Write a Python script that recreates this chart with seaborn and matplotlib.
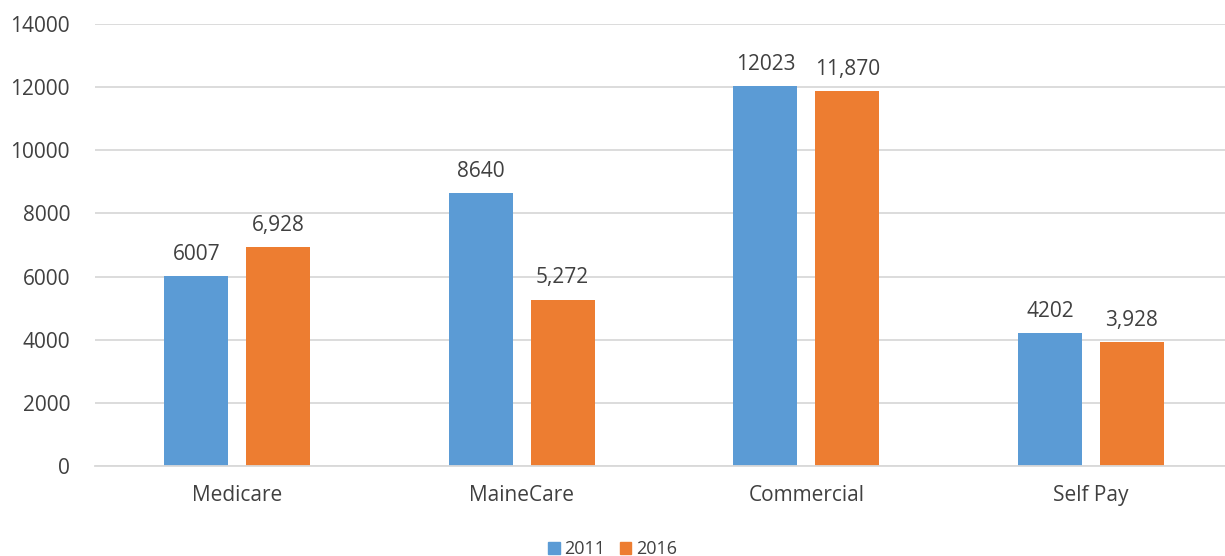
import matplotlib
matplotlib.use('Agg')
import matplotlib.pyplot as plt
import seaborn as sns
import pandas as pd

# chart data
categories = ['Medicare', 'MaineCare', 'Commercial', 'Self Pay']
years = ['2011', '2016']
values_2011 = [6007, 8640, 12023, 4202]
values_2016 = [6928, 5272, 11870, 3928]
y_ticks = [0, 2000, 4000, 6000, 8000, 10000, 12000, 14000]

sns.set_style('white')
plt.rcParams['font.family'] = ['Open Sans', 'DejaVu Sans']

df = pd.DataFrame({
    'category': categories * 2,
    'year': [years[0]] * len(categories) + [years[1]] * len(categories),
    'value': values_2011 + values_2016,
})

palette = {'2011': '#5B9BD5', '2016': '#ED7D31'}
text_color = '#404040'

fig = plt.figure(figsize=(12.25, 5.56), dpi=100)
ax = fig.add_axes([95 / 1225, 90 / 556, 1138 / 1225, 442 / 556])

sns.barplot(data=df, x='category', y='value', hue='year', palette=palette,
            width=0.5754, gap=0.219, saturation=1, linewidth=0, ax=ax, legend=False)

ax.set_ylim(0, 14000)
ax.set_yticks(y_ticks)
ax.yaxis.grid(True, color='#D9D9D9', linewidth=1.3)
ax.set_axisbelow(True)
for side in ['top', 'right', 'left']:
    ax.spines[side].set_visible(False)
ax.spines['bottom'].set_color('#D9D9D9')
ax.spines['bottom'].set_linewidth(1.3)
ax.set_xlabel('')
ax.set_ylabel('')
ax.tick_params(axis='both', length=0, labelsize=15, labelcolor=text_color)
ax.tick_params(axis='x', pad=14)
ax.tick_params(axis='y', pad=18)

# value labels, 2016 shown with thousands separator
ax.bar_label(ax.containers[0], fmt='{:.0f}', padding=8, fontsize=15, color=text_color)
ax.bar_label(ax.containers[1], fmt='{:,.0f}', padding=8, fontsize=15, color=text_color)

handles = [plt.Rectangle((0, 0), 1, 1, color=palette[y]) for y in years]
fig.legend(handles, years, loc='center', bbox_to_anchor=(0.5, 7 / 556), ncol=2,
           frameon=False, fontsize=13, handlelength=0.65, handleheight=0.65,
           handletextpad=0.25, columnspacing=0.8, labelcolor=text_color)

fig.savefig('out.png', dpi=100)
